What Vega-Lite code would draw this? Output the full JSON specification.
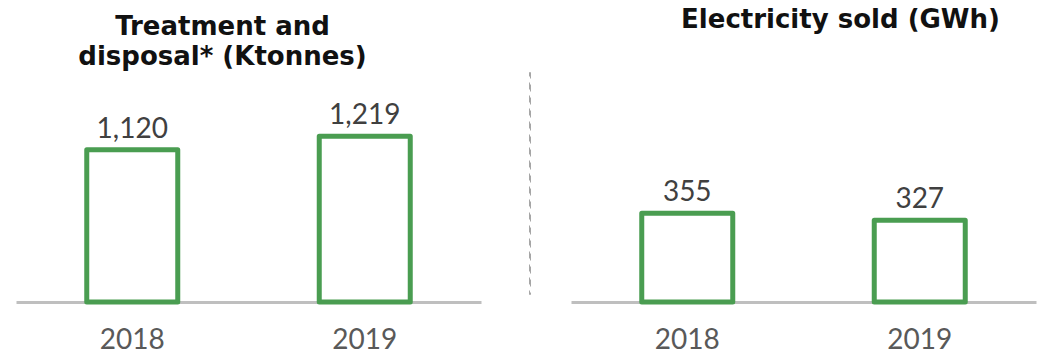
{
  "$schema": "https://vega.github.io/schema/vega-lite/v6.json",
  "padding": {"left": 16, "top": 7, "right": 5, "bottom": 0},
  "background": "white",
  "spacing": 47,
  "config": {
    "view": {"stroke": null},
    "font": "Lato",
    "title": {"font": "DejaVu Sans", "fontWeight": "bold", "fontSize": 26, "color": "#111111", "anchor": "middle", "lineHeight": 30},
    "axisX": {
      "title": null, "ticks": false, "labelAngle": 0, "labelFont": "Lato", "labelFontSize": 28,
      "labelColor": "#595959", "labelPadding": 24, "domainColor": "#bfbfbf", "domainWidth": 3, "zindex": 1, "grid": false
    }
  },
  "hconcat": [
    {
      "title": {"text": ["Treatment and", "disposal* (Ktonnes)"], "dx": -26, "offset": 2},
      "width": 465,
      "height": 230,
      "data": {"values": [{"year": "2018", "value": 1120}, {"year": "2019", "value": 1219}]},
      "encoding": {
        "x": {"field": "year", "type": "nominal", "scale": {"paddingInner": 0, "paddingOuter": 0}},
        "y": {"field": "value", "type": "quantitative", "scale": {"domain": [0, 1692]}, "axis": null}
      },
      "layer": [
        {"mark": {"type": "bar", "size": 91, "fill": "white", "stroke": "#4a9d51", "strokeWidth": 5, "strokeJoin": "round"}},
        {"mark": {"type": "text", "dy": -12, "baseline": "alphabetic", "fontSize": 28, "color": "#404040", "font": "Lato"},
         "encoding": {"text": {"field": "value", "type": "quantitative", "format": ","}}}
      ]
    },
    {
      "spacing": 40,
      "hconcat": [
        {
          "width": 1,
          "height": 222,
          "view": {"stroke": "#a6a6a6", "strokeDash": [7, 6], "strokeWidth": 1},
          "data": {"values": []},
          "mark": {"type": "rule"},
          "encoding": {}
        },
        {
          "title": {"text": "Electricity sold (GWh)", "dx": 37, "offset": 39},
          "width": 465,
          "height": 230,
          "data": {"values": [{"year": "2018", "value": 355}, {"year": "2019", "value": 327}]},
          "encoding": {
            "x": {"field": "year", "type": "nominal", "scale": {"paddingInner": 0, "paddingOuter": 0}},
            "y": {"field": "value", "type": "quantitative", "scale": {"domain": [0, 920]}, "axis": null}
          },
          "layer": [
            {"mark": {"type": "bar", "size": 91, "fill": "white", "stroke": "#4a9d51", "strokeWidth": 5, "strokeJoin": "round"}},
            {"mark": {"type": "text", "dy": -12, "baseline": "alphabetic", "fontSize": 28, "color": "#404040", "font": "Lato"},
             "encoding": {"text": {"field": "value", "type": "quantitative"}}}
          ]
        }
      ]
    }
  ]
}
